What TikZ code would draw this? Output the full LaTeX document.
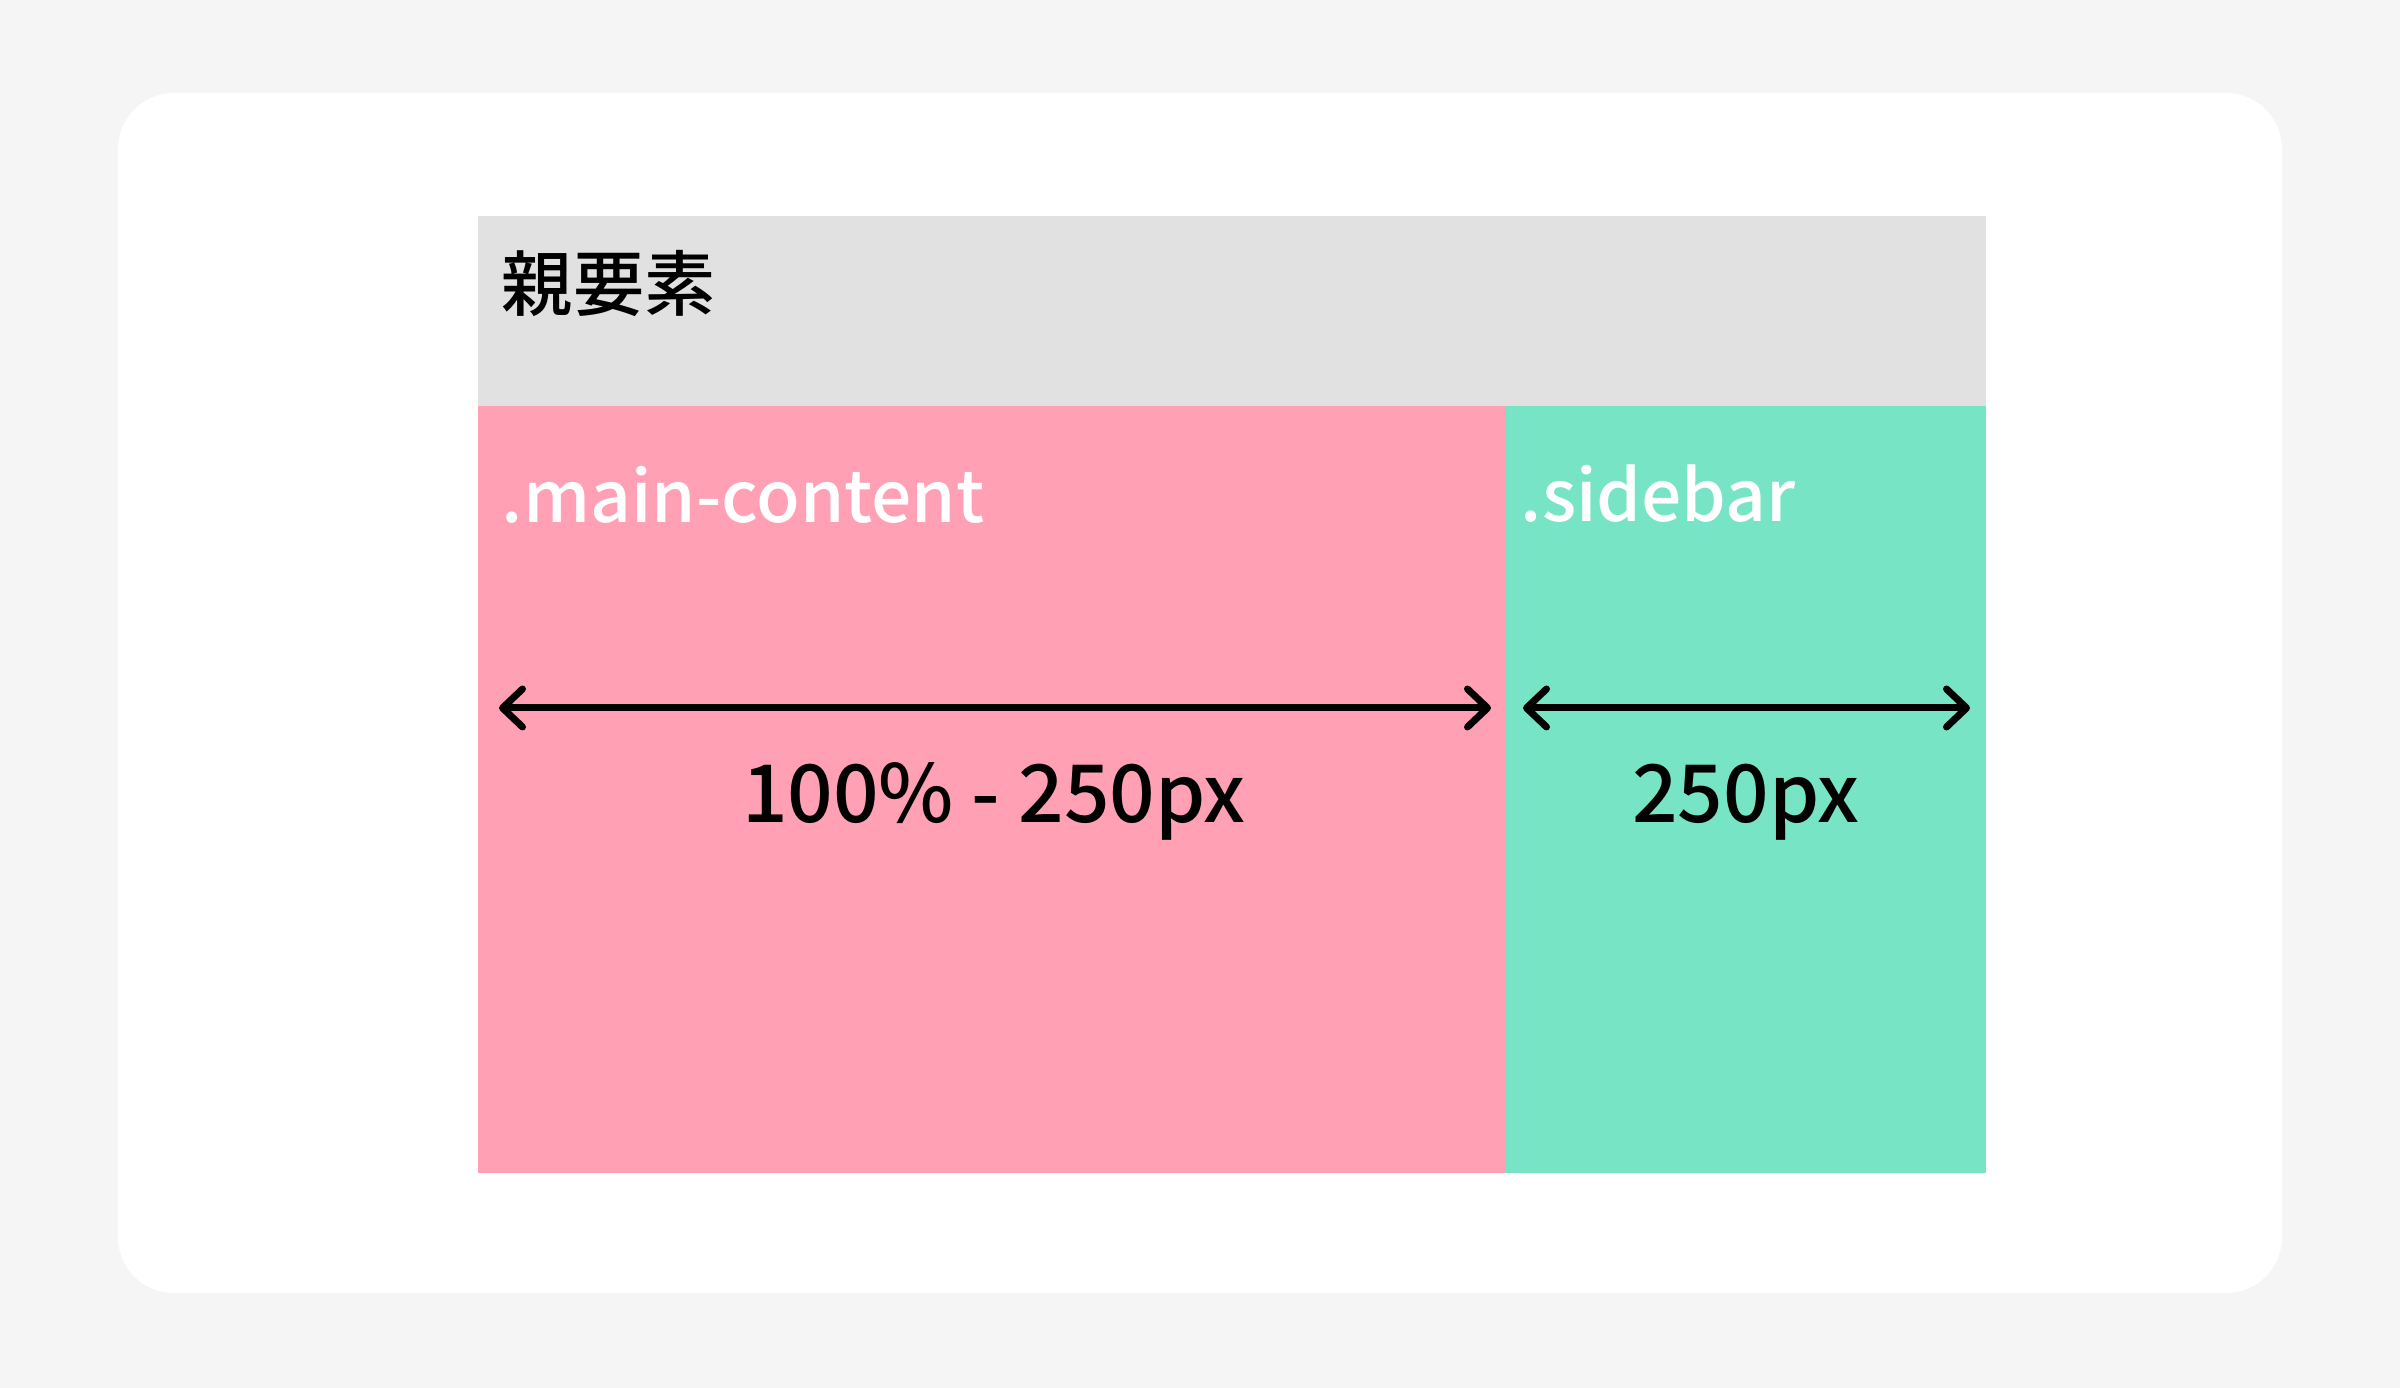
\documentclass[tikz,border=0pt]{standalone}
\usepackage{fontspec}
\setmainfont{Noto Sans CJK JP}[UprightFont={* Medium}, BoldFont={* Bold}]
\usetikzlibrary{arrows.meta}
\definecolor{bgc}{HTML}{F5F5F5}
\definecolor{parentc}{HTML}{E1E1E1}
\definecolor{mainc}{HTML}{FFA0B4}
\definecolor{sidec}{HTML}{77E5C5}
\tikzset{
  box/.style={draw=none, inner sep=0pt, outer sep=0pt},
  lbl/.style={inner sep=0pt, anchor=base west, text=white, font=\fontsize{17.8pt}{21pt}\selectfont},
  meas/.style={inner sep=0pt, anchor=base, text=black, font=\fontsize{20pt}{24pt}\selectfont},
  dim/.style={line width=1.75pt, {Straight Barb[length=5pt,width=9.5pt,line cap=round,line join=round]}-{Straight Barb[length=5pt,width=9.5pt,line cap=round,line join=round]}}
}
\begin{document}
\begin{tikzpicture}[x=0.25pt,y=-0.25pt]
\fill[bgc] (0,0) rectangle (2400,1388);
\useasboundingbox (0,0) rectangle (2400,1388);
\fill[white, rounded corners=14pt] (118,93) rectangle (2282,1293);
\node[box, fill=parentc, minimum width=377pt, minimum height=47.5pt, anchor=north west] (parent) at (478,216) {};
\node[box, fill=mainc, minimum width=257pt, minimum height=191.75pt, anchor=north west] (main) at (478,406) {};
\node[box, fill=sidec, minimum width=120pt, minimum height=191.75pt, anchor=north west] (side) at (1506,406) {};
\node[inner sep=0pt, anchor=west, font=\fontsize{17.8pt}{21pt}\selectfont] (ptxt) at (501,284) {親要素};
\node[lbl] (mtxt) at (501,523) {.main-content};
\node[lbl] (stxt) at (1520,522) {.sidebar};
\coordinate (a1) at (499,708);
\coordinate (a2) at (1491,708);
\coordinate (b1) at (1523,708);
\coordinate (b2) at (1970,708);
\draw[dim] (a1) -- (a2);
\draw[dim] (b1) -- (b2);
\node[meas] (mm) at (994,823) {100\% - 250px};
\node[meas] (sm) at (1746,823) {250px};
\end{tikzpicture}
\end{document}
